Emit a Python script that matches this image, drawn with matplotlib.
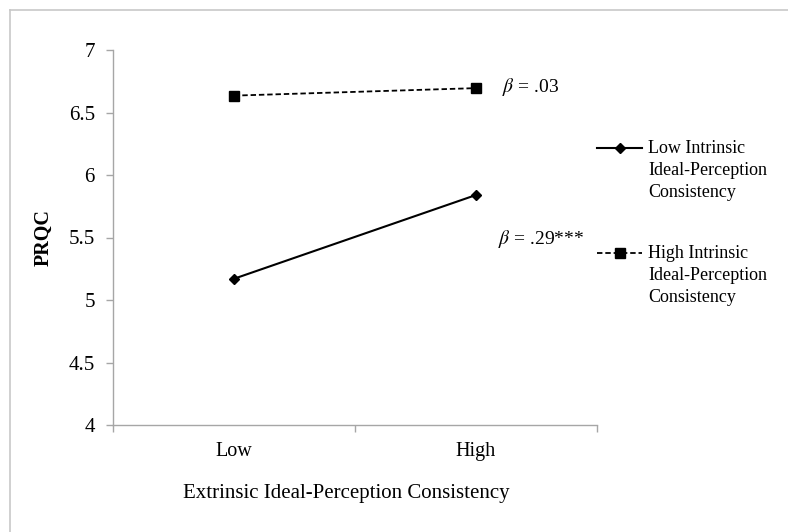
import matplotlib
matplotlib.use("Agg")
import matplotlib.pyplot as plt
from matplotlib.lines import Line2D

plt.rcParams['font.family'] = ['Liberation Serif', 'DejaVu Serif']
plt.rcParams['mathtext.fontset'] = 'stix'

categories = ["Low", "High"]
low_intrinsic = [5.17, 5.84]
high_intrinsic = [6.635, 6.695]
series_labels = ["Low Intrinsic\nIdeal-Perception\nConsistency",
                 "High Intrinsic\nIdeal-Perception\nConsistency"]
beta_labels = [r"$\beta$ = .29***", r"$\beta$ = .03"]
yticks = [4, 4.5, 5, 5.5, 6, 6.5, 7]
ytick_labels = ["4", "4.5", "5", "5.5", "6", "6.5", "7"]

W, H = 788, 532
fig = plt.figure(figsize=(W/100, H/100), dpi=100)
ax = fig.add_axes([113/W, 1-425/H, (597-113)/W, (425-50)/H])

axis_gray = '#a6a6a6'
x = list(range(len(categories)))
ax.plot(x, low_intrinsic, color='black', lw=1.5, marker='D', ms=5.5,
        markerfacecolor='black', markeredgecolor='black')
ax.plot(x, high_intrinsic, color='black', lw=1.3, ls=(0, (3, 1.6)), marker='s', ms=7,
        markerfacecolor='black', markeredgecolor='black')

ax.set_xlim(-0.5, 1.5)
ax.set_ylim(4, 7)
ax.set_yticks(yticks)
ax.set_yticklabels(ytick_labels)
ax.set_xticks([-0.5, 0.5, 1.5])
ax.set_xticklabels([])
ax.set_xticks(x, minor=True)
ax.set_xticklabels(categories, minor=True)
ax.tick_params(axis='x', which='minor', length=0, pad=12, labelsize=14.5)
ax.tick_params(axis='x', which='major', length=5, color=axis_gray, width=1)
ax.tick_params(axis='y', length=5, color=axis_gray, width=1, pad=8, labelsize=15)

for s in ['top', 'right']:
    ax.spines[s].set_visible(False)
for s in ['left', 'bottom']:
    ax.spines[s].set_color(axis_gray)
    ax.spines[s].set_linewidth(1)

ax.set_ylabel("PRQC", fontweight='bold', fontsize=14.5, labelpad=11)
ax.set_xlabel("Extrinsic Ideal-Perception Consistency", fontsize=15, labelpad=15)
ax.xaxis.set_label_coords((346 - 113) / (597 - 113), -0.157)

# beta annotations next to the high points
ax.annotate(beta_labels[0], xy=(x[1], low_intrinsic[1]), xytext=(16, -32),
            textcoords='offset points', fontsize=14, va='center', ha='left')
ax.annotate(beta_labels[1], xy=(x[1], high_intrinsic[1]), xytext=(19, 1),
            textcoords='offset points', fontsize=14, va='center', ha='left')

# manual legend
leg = [
    (low_intrinsic, series_labels[0], '-', 'D', 5.5, 148),
    (high_intrinsic, series_labels[1], (0, (3, 1.6)), 's', 7, 253),
]
for _, lab, ls, mk, ms, yp in leg:
    fy = 1 - yp/H
    fig.add_artist(Line2D([597/W, 642/W], [fy, fy], color='black', lw=1.5 if ls == '-' else 1.3,
                          ls=ls, transform=fig.transFigure))
    fig.add_artist(Line2D([620/W], [fy], marker=mk, ms=ms, color='black',
                          transform=fig.transFigure))
    fig.text(648/W, 1 - (yp - 8)/H, lab, fontsize=13, va='top', ha='left', linespacing=1.38)

# figure frame (left and top)
fig.add_artist(Line2D([10/W, 10/W], [0, 1 - 10/H], color='#c8c8c8', lw=1.2, transform=fig.transFigure))
fig.add_artist(Line2D([10/W, 1], [1 - 10/H, 1 - 10/H], color='#c8c8c8', lw=1.2, transform=fig.transFigure))

fig.savefig("out.png", dpi=100)
